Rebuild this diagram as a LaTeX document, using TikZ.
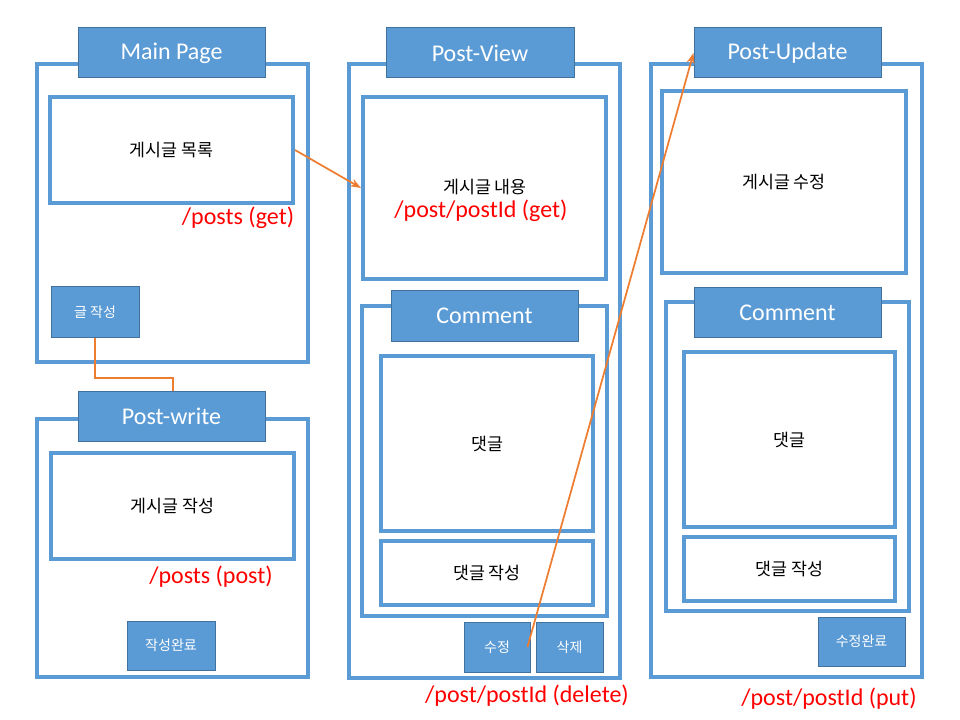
\documentclass[tikz,border=0pt]{standalone}
\usepackage{fontspec}
\setmainfont{Carlito}
\newfontfamily\kr{Noto Sans CJK KR}
\usepackage{tikz}
\usetikzlibrary{positioning,fit,calc,arrows.meta}

\definecolor{boxblue}{HTML}{5B9BD5}
\definecolor{edgeblue}{HTML}{41719C}
\definecolor{lineorange}{HTML}{ED7D31}
\definecolor{urlred}{HTML}{FF0000}

\begin{document}
\begin{tikzpicture}[
    x=0.75pt, y=-0.75pt,
    panel/.style={draw=boxblue, line width=3pt, inner sep=0pt},
    inbox/.style={draw=boxblue, line width=3pt, inner sep=0pt},
    ttl/.style={fill=boxblue, draw=edgeblue, line width=0.75pt, inner sep=0pt},
    btn/.style={fill=boxblue, draw=edgeblue, line width=0.75pt, inner sep=0pt},
    ttltxt/.style={inner sep=0pt, text=white, font=\fontsize{18}{21}\selectfont},
    btntxt/.style={inner sep=0pt, text=white, font=\kr\fontsize{10.5}{12}\selectfont},
    txt/.style={inner sep=0pt, font=\kr\fontsize{13}{15}\selectfont},
    url/.style={text=urlred, inner sep=0pt, font=\fontsize{18}{21}\selectfont},
    conn/.style={draw=lineorange, line width=1.3pt}
]
\useasboundingbox (0,0) rectangle (960,720);

% Main Page
\node[panel, fit={(37,64) (308,362)}] (main) {};
\node[ttl, fit={(78,28) (265,78)}, label={[ttltxt]center:Main Page}] (mainT) {};
\node[inbox, fit={(50,97) (293,203)}, label={[txt]center:게시글 목록}] (list) {};
\node[url] (urlList) at (238,218) {/posts (get)};
\node[btn, fit={(51,287) (139,337)}, label={[btntxt]center:글 작성}] (writeBtn) {};

% Post-write
\node[panel, fit={(37,419) (308,677)}] (write) {};
\node[ttl, fit={(78,391) (265,441)}, label={[ttltxt]center:Post-write}] (writeT) {};
\node[inbox, fit={(51,453) (294,559)}, label={[txt]center:게시글 작성}] (writeBox) {};
\node[url] (urlWrite) at (211,577) {/posts (post)};
\node[btn, fit={(127,621) (215,670)}, label={[btntxt]center:작성완료}] (doneBtn) {};

% Post-View
\node[panel, fit={(349,64) (620,678)}] (view) {};
\node[ttl, fit={(386,28) (574,78)}, label={[ttltxt]center:Post-View}] (viewT) {};
\node[inbox, fit={(363,97) (606,279)}] (content) {};
\node[txt] (contentTxt) at (485,187) {게시글 내용};
\node[url] (urlView) at (481,211) {/post/postId (get)};
\node[panel, fit={(362,306) (607,616)}] (viewCm) {};
\node[ttl, fit={(391,291) (578,341)}, label={[ttltxt]center:Comment}] (viewCmT) {};
\node[inbox, fit={(381,356) (593,531)}, label={[txt]center:댓글}] (viewCmList) {};
\node[inbox, fit={(381,541) (593,605)}, label={[txt]center:댓글 작성}] (viewCmNew) {};
\node[btn, fit={(464,622) (530,672)}, label={[btntxt]center:수정}] (editBtn) {};
\node[btn, fit={(536,622) (603,672)}, label={[btntxt]center:삭제}] (delBtn) {};
\node[url] (urlDel) at (527,696) {/post/postId (delete)};

% Post-Update
\node[panel, fit={(651,64) (922,677)}] (update) {};
\node[ttl, fit={(694,28) (881,78)}, label={[ttltxt]center:Post-Update}] (updateT) {};
\node[inbox, fit={(662,91) (906,273)}, label={[txt]center:게시글 수정}] (editBox) {};
\node[panel, fit={(666,302) (909,611)}] (updCm) {};
\node[ttl, fit={(694,288) (881,337)}, label={[ttltxt]center:Comment}] (updCmT) {};
\node[inbox, fit={(684,352) (895,527)}, label={[txt]center:댓글}] (updCmList) {};
\node[inbox, fit={(684,537) (895,601)}, label={[txt]center:댓글 작성}] (updCmNew) {};
\node[btn, fit={(818,617) (905,666)}, label={[btntxt]center:수정완료}] (saveBtn) {};
\node[url] (urlPut) at (829,699) {/post/postId (put)};

% connectors
\draw[conn] (writeBtn.south -| 95,0) |- (173,378) -- (writeT.north -| 173,0);
\draw[conn, -{Stealth[length=8pt,width=6pt]}] (list.east) -- (content.west);
\draw[conn, -{Stealth[length=8pt,width=6pt]}] ($(editBtn.east)+(-3,0)$) -- (updateT.west);

\end{tikzpicture}
\end{document}
